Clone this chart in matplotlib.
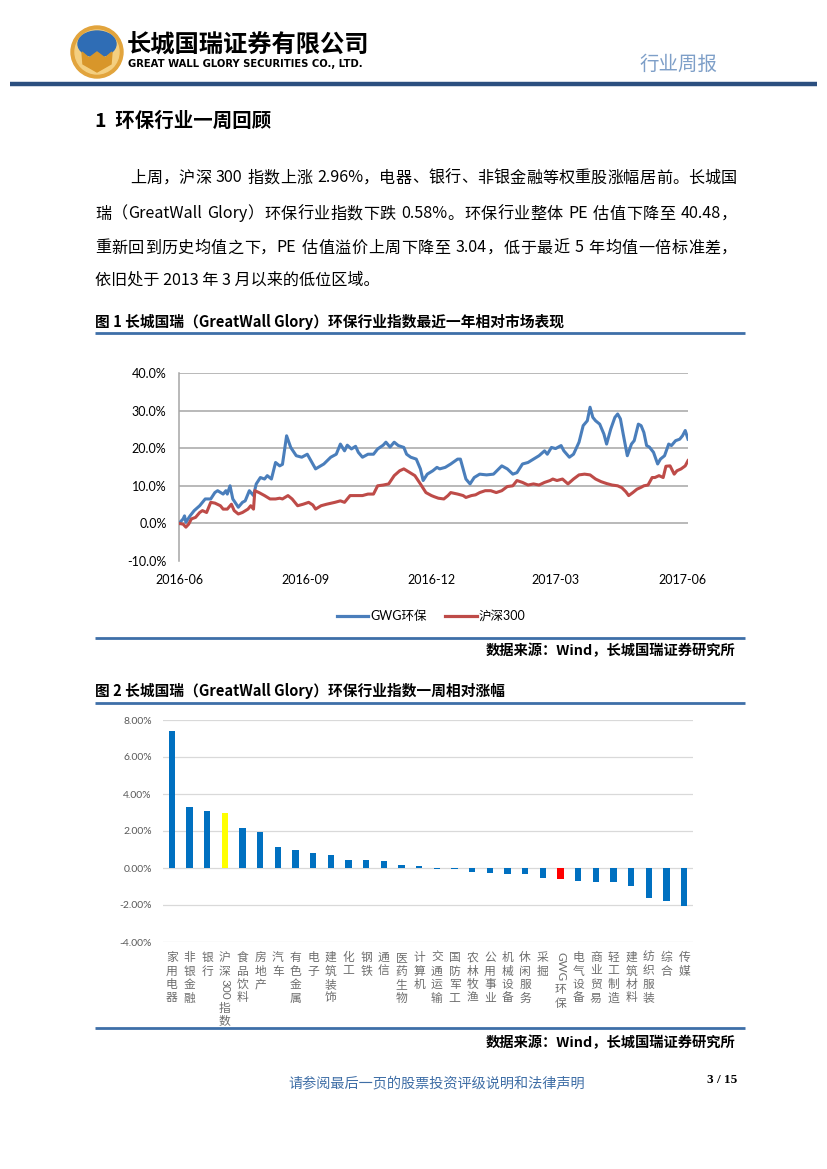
import re
import pandas as pd
import matplotlib
matplotlib.use('Agg')
import matplotlib.pyplot as plt
import matplotlib.patches as mpatches
from matplotlib.lines import Line2D
from matplotlib.transforms import blended_transform_factory

CJK = ['Noto Sans CJK SC', 'DejaVu Sans']
LAT = ['Lato', 'Noto Sans CJK SC', 'DejaVu Sans']
plt.rcParams['font.family'] = CJK

# ---- 图1 数据（距 2016-06-01 的天数, 累计相对涨幅 %） ----
start_date = '2016-06-01'
gwg_days = [0, 3, 4, 5, 8, 11, 15, 19, 23, 26,
            28, 32, 34, 35, 37, 39, 43, 46, 48, 51,
            54, 56, 59, 62, 64, 67, 70, 73, 75, 78,
            81, 85, 89, 93, 95, 99, 105, 110, 114, 117,
            120, 122, 125, 128, 130, 133, 137, 141, 144, 148,
            150, 153, 156, 159, 163, 165, 168, 172, 175, 177,
            180, 184, 187, 189, 193, 197, 202, 204, 208, 211,
            214, 218, 223, 228, 234, 238, 242, 245, 249, 253,
            257, 261, 265, 267, 270, 273, 277, 279, 283, 286,
            290, 293, 296, 297, 298, 300, 302, 305, 308, 310,
            313, 316, 318, 320, 322, 325, 328, 330, 333, 335,
            337, 339, 341, 344, 347, 349, 352, 355, 357, 360,
            363, 365, 367, 369]
gwg_vals = [0.0, 1.2, 2.0, 0.3, 2.0, 3.4, 4.7, 6.5, 6.5, 8.2,
            8.7, 7.8, 8.7, 7.8, 10.0, 6.5, 4.3, 5.6, 6.0, 8.7,
            7.4, 10.5, 12.2, 11.8, 12.7, 11.8, 16.2, 15.3, 15.7, 23.3,
            20.2, 18.0, 17.6, 18.4, 17.1, 14.5, 15.8, 17.6, 18.4, 21.1,
            19.3, 20.8, 19.8, 20.5, 18.9, 17.6, 18.4, 18.4, 19.8, 20.8,
            21.6, 20.3, 21.6, 20.7, 20.2, 18.4, 17.6, 17.1, 14.5, 11.4,
            13.1, 14.0, 14.9, 14.5, 14.9, 15.8, 17.1, 17.1, 11.8, 10.5,
            12.2, 13.1, 12.9, 13.1, 15.3, 14.5, 13.1, 13.5, 15.8, 16.2,
            17.1, 18.0, 19.3, 18.4, 20.2, 19.9, 20.7, 19.3, 17.6, 18.4,
            21.6, 26.0, 27.3, 29.1, 30.9, 28.2, 27.3, 26.4, 23.8, 21.1,
            25.1, 28.2, 29.1, 27.8, 23.8, 18.0, 21.1, 22.0, 26.4, 26.0,
            24.2, 20.7, 20.3, 18.9, 15.8, 17.1, 18.0, 21.1, 20.7, 22.0,
            22.4, 23.3, 24.7, 22.4]
hs_days = [0, 3, 5, 7, 9, 12, 15, 17, 20, 23,
           26, 30, 32, 35, 38, 40, 43, 46, 50, 52,
           54, 55, 58, 62, 66, 70, 73, 75, 79, 82,
           86, 90, 94, 97, 99, 103, 107, 113, 117, 120,
           124, 128, 130, 133, 137, 141, 144, 148, 152, 156,
           160, 163, 167, 171, 175, 179, 183, 185, 188, 192,
           195, 197, 202, 206, 208, 212, 215, 218, 222, 226,
           230, 234, 238, 242, 245, 249, 253, 257, 261, 265,
           269, 271, 274, 278, 282, 286, 290, 294, 298, 302,
           306, 310, 314, 318, 321, 324, 326, 329, 332, 335,
           337, 340, 343, 345, 348, 351, 353, 356, 359, 361,
           364, 367, 369]
hs_vals = [0.0, -0.2, -1.0, -0.2, 1.2, 1.6, 2.9, 3.4, 2.9, 5.6,
           5.4, 4.7, 3.8, 3.8, 5.1, 3.4, 2.5, 2.9, 3.8, 4.7,
           3.8, 8.7, 8.2, 7.4, 6.5, 6.5, 6.7, 6.5, 7.4, 6.5,
           4.7, 5.1, 5.6, 4.9, 3.8, 4.7, 5.1, 5.6, 6.0, 5.6,
           7.4, 7.4, 7.4, 7.4, 7.8, 7.8, 10.0, 10.2, 10.5, 12.7,
           14.0, 14.5, 13.6, 12.7, 10.5, 8.2, 7.4, 7.1, 6.7, 6.5,
           7.4, 8.2, 7.8, 7.4, 6.9, 7.4, 7.6, 8.2, 8.7, 8.7,
           8.2, 8.7, 9.8, 10.0, 11.4, 10.9, 10.2, 10.5, 10.2, 10.9,
           11.4, 11.8, 11.4, 11.8, 10.5, 11.8, 12.9, 13.1, 12.9, 11.8,
           11.1, 10.6, 10.2, 10.0, 9.5, 8.4, 7.4, 8.2, 9.1, 9.6,
           10.0, 10.2, 12.2, 12.2, 12.7, 12.2, 15.2, 15.3, 13.1, 14.0,
           14.5, 15.3, 16.7]
x_tick_dates = ['2016-06-01', '2016-09-01', '2016-12-01', '2017-03-01', '2017-06-01']
x_tick_labels = ['2016-06', '2016-09', '2016-12', '2017-03', '2017-06']
series_names = ['GWG环保', '沪深300']

# ---- 图2 数据（一周相对涨幅 %） ----
industries = ['家用电器', '非银金融', '银行', '沪深300指数', '食品饮料', '房地产', '汽车',
              '有色金属', '电子', '建筑装饰', '化工', '钢铁', '通信', '医药生物', '计算机',
              '交通运输', '国防军工', '农林牧渔', '公用事业', '机械设备', '休闲服务', '采掘',
              'GWG环保', '电气设备', '商业贸易', '轻工制造', '建筑材料', '纺织服装', '综合', '传媒']
weekly_chg = [7.42, 3.32, 3.10, 2.96, 2.14, 1.96, 1.12, 0.99, 0.81, 0.68, 0.41, 0.41, 0.36,
              0.16, 0.10, -0.05, -0.05, -0.23, -0.27, -0.31, -0.32, -0.52, -0.58, -0.68,
              -0.77, -0.77, -0.95, -1.64, -1.77, -2.07]

W, H = 827, 1169
fig = plt.figure(figsize=(W / 100, H / 100), dpi=100)
renderer = fig.canvas.get_renderer()
bg = fig.add_axes([0, 0, 1, 1], zorder=0)
bg.set_xlim(0, W)
bg.set_ylim(H, 0)
bg.axis('off')


def px_axes(l, t, r, b):
    return fig.add_axes([l / W, 1 - b / H, (r - l) / W, (b - t) / H], zorder=2)


def text_width(s, **kw):
    t = fig.text(0, 0, s, **kw)
    w = t.get_window_extent(renderer).width
    t.remove()
    return w


def justify(x0, x1, y, s, size):
    # 两端对齐：按字符/英文单词拆分后均匀分配空隙
    toks = re.findall(r'[A-Za-z0-9.%]+| |.', s)
    widths = [size * 1.389 * 0.28 if t == ' ' else text_width(t, fontsize=size) for t in toks]
    gap = (x1 - x0 - sum(widths)) / (len(toks) - 1)
    x = x0
    for t, w in zip(toks, widths):
        if t != ' ':
            bg.text(x, y, t, fontsize=size, va='center', ha='left')
        x += w + gap


# ---- 页眉 ----
bg.add_patch(mpatches.Circle((97, 52), 26, color='#E2A43C'))
bg.add_patch(mpatches.Circle((97, 52), 22, color='#F4CF80'))
bg.add_patch(mpatches.Ellipse((97, 44), 38, 26, color='#2F6DB5'))
bg.add_patch(mpatches.Polygon([(82, 52), (89, 58), (97, 52), (105, 58), (112, 52),
                               (111, 64), (97, 72), (83, 64)], closed=True, color='#D8962A'))
bg.text(127, 46, '长城国瑞证券有限公司', fontsize=17.5, weight='bold', va='center')
bg.text(128, 64, 'GREAT WALL GLORY SECURITIES CO., LTD.', fontsize=7.2, weight='bold',
        va='center', family=['DejaVu Sans'])
bg.text(718, 64, '行业周报', fontsize=14, color='#7E9FC8', ha='right', va='center')
bg.plot([10, 817], [84, 84], color='#2B4F7F', lw=3.2, solid_capstyle='butt')

# ---- 正文 ----
bg.text(95, 121, '1  环保行业一周回顾', fontsize=14, weight='bold', va='center')
para = [
    (130, 178, '上周，沪深 300 指数上涨 2.96%，电器、银行、非银金融等权重股涨幅居前。长城国'),
    (95, 214, '瑞（GreatWall Glory）环保行业指数下跌 0.58%。环保行业整体 PE 估值下降至 40.48，'),
    (95, 248, '重新回到历史均值之下，PE 估值溢价上周下降至 3.04，低于最近 5 年均值一倍标准差，'),
]
for x, y, s in para:
    justify(x, 737, y, s, 11.6)
bg.text(95, 280, '依旧处于 2013 年 3 月以来的低位区域。', fontsize=11.6, va='center')

rule_color = '#3E6FA8'
bg.text(95, 322, '图 1 长城国瑞（GreatWall Glory）环保行业指数最近一年相对市场表现',
        fontsize=10.6, weight='bold', va='center')
for y in [333, 638, 703, 1028]:
    bg.plot([95, 745], [y, y], color=rule_color, lw=2, solid_capstyle='butt')
for y in [651, 1043]:
    bg.text(735, y, '数据来源：Wind，长城国瑞证券研究所', fontsize=10.3, weight='bold',
            ha='right', va='center')
bg.text(95, 691, '图 2 长城国瑞（GreatWall Glory）环保行业指数一周相对涨幅',
        fontsize=10.6, weight='bold', va='center')

# ---- 图1 折线 ----
t0 = pd.Timestamp(start_date)
gwg_x = t0 + pd.to_timedelta(gwg_days, unit='D')
hs_x = t0 + pd.to_timedelta(hs_days, unit='D')
ax1 = px_axes(179, 373, 688, 561)
ax1.set_ylim(-10, 40)
ax1.set_xlim(t0, t0 + pd.Timedelta(days=369))
for v in range(0, 41, 10):
    ax1.axhline(v, color='#A6A6A6', lw=1.1, zorder=1)
ax1.plot(gwg_x, gwg_vals, color='#4A7EBB', lw=2.2, label=series_names[0], zorder=3)
ax1.plot(hs_x, hs_vals, color='#BE4B48', lw=2.2, label=series_names[1], zorder=3)
ax1.set_yticks(range(-10, 41, 10))
ax1.set_yticklabels([f'{v:.1f}%' for v in range(-10, 41, 10)], family=LAT, fontsize=9)
ax1.set_xticks(pd.to_datetime(x_tick_dates))
ax1.set_xticklabels(x_tick_labels, family=LAT, fontsize=9)
ax1.tick_params(length=0)
ax1.tick_params(axis='y', pad=9)
ax1.tick_params(axis='x', pad=9)
for side in ['top', 'right', 'bottom']:
    ax1.spines[side].set_visible(False)
ax1.spines['left'].set_color('#A6A6A6')
ax1.spines['left'].set_linewidth(1.1)
ax1.patch.set_alpha(0)

handles = [Line2D([], [], color='#4A7EBB', lw=2.3), Line2D([], [], color='#BE4B48', lw=2.3)]
fig.legend(handles, series_names, loc='center', bbox_to_anchor=(431 / W, 1 - 616 / H),
           ncol=2, frameon=False, prop={'family': LAT, 'size': 9},
           handlelength=2.5, handletextpad=0.15, columnspacing=1.5)

# ---- 图2 柱状 ----
ax2 = px_axes(163, 720, 693, 942)
bar_colors = ['#FFFF00' if n == '沪深300指数' else '#FF0000' if n == 'GWG环保' else '#0070C0'
              for n in industries]
xs = range(len(industries))
ax2.bar(xs, weekly_chg, width=0.34, color=bar_colors, zorder=3)
ax2.set_ylim(-4, 8)
ax2.set_xlim(-0.5, len(industries) - 0.5)
ax2.set_yticks(range(-4, 9, 2))
ax2.set_yticklabels([f'{v:.2f}%' for v in range(-4, 9, 2)], family=LAT, fontsize=7.5,
                    color='#595959')
ax2.grid(axis='y', color='#D9D9D9', lw=0.9, zorder=0)
ax2.set_xticks([])
ax2.tick_params(length=0, pad=8)
for s in ax2.spines.values():
    s.set_visible(False)
ax2.patch.set_alpha(0)

# 竖排类目标签（英文数字旋转 90°）
lab_tr = blended_transform_factory(ax2.transData, bg.transData)
lab_kw = dict(fontsize=8.5, color='#6E6E6E')
for i, name in enumerate(industries):
    py = 951
    for tok in re.findall(r'[A-Za-z0-9]+|.', name):
        if tok.isascii():
            h = text_width(tok, family=LAT, **lab_kw)
            ax2.text(i, py + h / 2 + 1, tok, rotation=-90, ha='center', va='center',
                     family=LAT, transform=lab_tr, **lab_kw)
            py += h + 3
        else:
            ax2.text(i, py + 6.5, tok, ha='center', va='center', transform=lab_tr, **lab_kw)
            py += 13.5

# ---- 页脚 ----
bg.text(437, 1083, '请参阅最后一页的股票投资评级说明和法律声明', fontsize=10.2,
        color='#3F6EA6', ha='center', va='center')
bg.text(737, 1080, '3 / 15', fontsize=9.5, weight='bold', ha='right', va='center',
        family=['Liberation Serif'])

fig.savefig('out.png', dpi=100)
